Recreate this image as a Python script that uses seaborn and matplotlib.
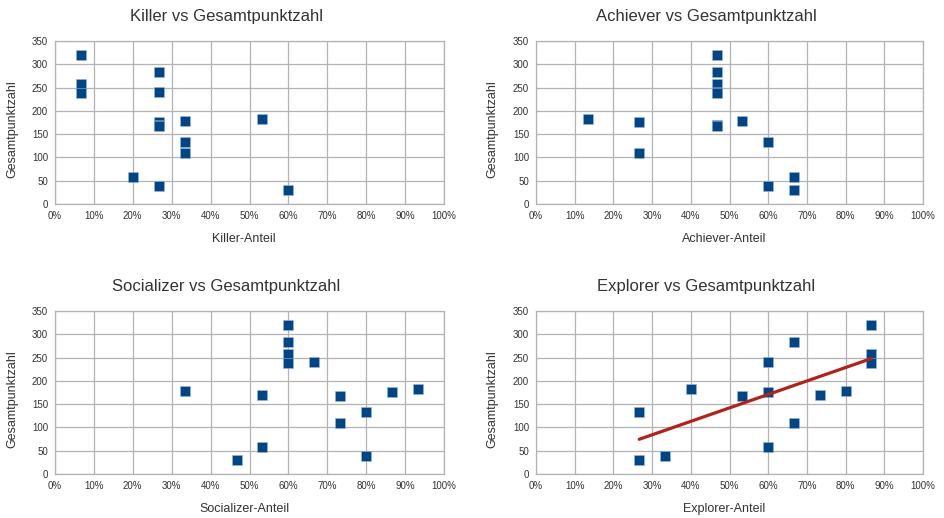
import pandas as pd
import matplotlib
matplotlib.use("Agg")
import matplotlib.pyplot as plt
import seaborn as sns
from matplotlib.ticker import PercentFormatter

# Gesamtpunktzahl per participant
scores = [320, 284, 257, 241, 238, 183, 179, 176, 169, 168, 133, 109, 58, 38, 29]

# Player-type shares per participant (same order as scores)
killer = [1/15, 4/15, 1/15, 4/15, 1/15, 8/15, 5/15, 4/15, 4/15, 4/15, 5/15, 5/15, 3/15, 4/15, 9/15]
achiever = [7/15, 7/15, 7/15, 7/15, 7/15, 2/15, 8/15, 4/15, 7/15, 7/15, 9/15, 4/15, 10/15, 9/15, 10/15]
socializer = [9/15, 9/15, 9/15, 10/15, 9/15, 14/15, 5/15, 13/15, 8/15, 11/15, 12/15, 11/15, 8/15, 12/15, 7/15]
explorer = [13/15, 10/15, 13/15, 9/15, 13/15, 6/15, 12/15, 9/15, 11/15, 8/15, 4/15, 10/15, 9/15, 5/15, 4/15]

types = ["Killer", "Achiever", "Socializer", "Explorer"]

BLUE = "#004586"
RED = "#b0231b"
GRID = "#b3b3b3"
TEXT = "#333333"


def main():
    df = pd.DataFrame({
        "Killer": killer,
        "Achiever": achiever,
        "Socializer": socializer,
        "Explorer": explorer,
        "Gesamtpunktzahl": scores,
    })

    sns.set_theme(style="whitegrid")
    plt.rcParams["font.family"] = ["Liberation Sans", "DejaVu Sans"]

    W, H = 944, 518
    fig = plt.figure(figsize=(W / 100, H / 100), dpi=100)

    # pixel boxes of each plot area: (left, top, right, bottom), label offsets
    boxes = {
        "Killer": (55, 41, 444, 204, 0, 0),
        "Achiever": (536, 41, 923, 204, 480, 0),
        "Socializer": (55, 311, 444, 474, 0, 270),
        "Explorer": (536, 311, 923, 474, 480, 270),
    }

    for name in types:
        l, t, r, b, dx, dy = boxes[name]
        ax = fig.add_axes([l / W, 1 - b / H, (r - l) / W, (b - t) / H])
        sns.scatterplot(data=df, x=name, y="Gesamtpunktzahl", ax=ax,
                        marker="s", s=42, color=BLUE,
                        edgecolor="#9db7d3", linewidth=0.4, zorder=3)
        if name == "Explorer":
            sns.regplot(data=df, x=name, y="Gesamtpunktzahl", ax=ax,
                        scatter=False, ci=None, truncate=True,
                        line_kws={"color": RED, "lw": 2.3, "zorder": 4})

        ax.set_xlim(0, 1)
        ax.set_ylim(0, 350)
        ax.set_xticks([i / 10 for i in range(11)])
        ax.set_yticks(range(0, 351, 50))
        ax.xaxis.set_major_formatter(PercentFormatter(1.0, decimals=0))
        ax.grid(True, color=GRID, lw=0.9)
        for sp in ax.spines.values():
            sp.set_color(GRID)
            sp.set_linewidth(0.9)
        ax.tick_params(axis="both", length=3, width=0.9, color=GRID,
                       labelsize=7, labelcolor=TEXT, pad=2)
        ax.tick_params(axis="both", which="both", direction="out")
        ax.set_xlabel("")
        ax.set_ylabel("")

        # titles and axis labels placed like the original layout
        fig.text((226 + dx) / W, 1 - (16 + dy) / H, f"{name} vs Gesamtpunktzahl",
                 ha="center", va="center", fontsize=12, color=TEXT)
        fig.text((244 + dx) / W, 1 - (239 + dy) / H, f"{name}-Anteil",
                 ha="center", va="center", fontsize=9, color=TEXT)
        fig.text((12 + dx) / W, 1 - (129 + dy) / H, "Gesamtpunktzahl",
                 ha="center", va="center", rotation=90, fontsize=9, color=TEXT)

    fig.savefig("out.png", dpi=100)


if __name__ == "__main__":
    main()
